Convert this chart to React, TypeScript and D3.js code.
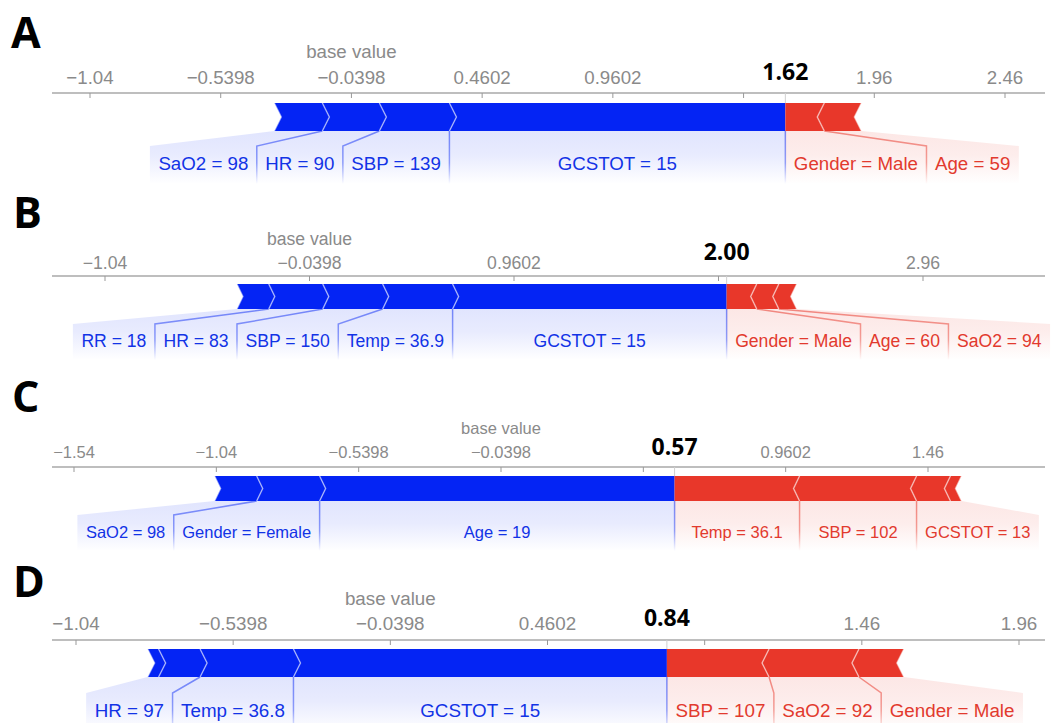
import React, { useEffect, useRef } from "react";
import * as d3 from "d3";

// Shared expected value of the model (the "base value" marker on every axis)
const BASE_VALUE = -0.0398;

// Patient A: feature labels and their SHAP contributions (ordered from the output outward)
const labelsA = ["GCSTOT = 15", "SBP = 139", "HR = 90", "SaO2 = 98", "Gender = Male", "Age = 59"];
const effectsA = [1.285, 0.268, 0.218, 0.184, -0.149, -0.142];
const outputA = 1.62;
const ticksA = [-1.0398, -0.5398, -0.0398, 0.4602, 0.9602, 1.4602, 1.9602, 2.4602];

// Patient B
const labelsB = ["GCSTOT = 15", "Temp = 36.9", "SBP = 150", "HR = 83", "RR = 18", "Gender = Male", "Age = 60", "SaO2 = 94"];
const effectsB = [1.34, 0.342, 0.293, 0.264, 0.156, -0.147, -0.108, -0.088];
const outputB = 2.0;
const ticksB = [-1.0398, -0.0398, 0.9602, 1.9602, 2.9602];

// Patient C (last red contribution is too small to carry a label)
const labelsC = ["Age = 19", "Gender = Female", "SaO2 = 98", "Temp = 36.1", "SBP = 102", "GCSTOT = 13", null];
const effectsC = [1.247, 0.221, 0.148, -0.439, -0.411, -0.119, -0.039];
const outputC = 0.57;
const ticksC = [-1.5398, -1.0398, -0.5398, -0.0398, 0.4602, 0.9602, 1.4602];

// Patient D (last blue contribution is too small to carry a label)
const labelsD = ["GCSTOT = 15", "Temp = 36.8", "HR = 97", null, "SBP = 107", "SaO2 = 92", "Gender = Male"];
const effectsD = [1.188, 0.297, 0.132, 0.035, -0.325, -0.286, -0.143];
const outputD = 0.84;
const ticksD = [-1.0398, -0.5398, -0.0398, 0.4602, 0.9602, 1.4602, 1.9602];

// Vertical placement and sizing of each force plot
const layoutA = { letterX: 11, letterY: 48, baseY: 58, tickY: 84, outY: 80, axisY: 93, px0: 90, px1: 1005, barTop: 103, barBottom: 131, labelTop: 146, labelY: 170, fadeY: 184, font: 18.7, tip: 7 };
const layoutB = { letterX: 13, letterY: 228, baseY: 245, tickY: 269, outY: 260, axisY: 276, px0: 105, px1: 923, barTop: 284, barBottom: 309, labelTop: 324, labelY: 347, fadeY: 360, font: 17.6, tip: 6 };
const layoutC = { letterX: 12, letterY: 412, baseY: 434, tickY: 458, outY: 455, axisY: 467, px0: 74, px1: 928, barTop: 476, barBottom: 501, labelTop: 515, labelY: 538, fadeY: 551, font: 16.5, tip: 6 };
const layoutD = { letterX: 13, letterY: 597, baseY: 605, tickY: 630, outY: 626, axisY: 640, px0: 76, px1: 1019, barTop: 649, barBottom: 677, labelTop: 693, labelY: 717, fadeY: 732, font: 18.8, tip: 7 };

const panels = [
  { letter: "A", labels: labelsA, effects: effectsA, output: outputA, ticks: ticksA, layout: layoutA },
  { letter: "B", labels: labelsB, effects: effectsB, output: outputB, ticks: ticksB, layout: layoutB },
  { letter: "C", labels: labelsC, effects: effectsC, output: outputC, ticks: ticksC, layout: layoutC },
  { letter: "D", labels: labelsD, effects: effectsD, output: outputD, ticks: ticksD, layout: layoutD },
];

const AXIS_LEFT = 52;
const AXIS_RIGHT = 1045;
const BLUE = "#0424f4";
const RED = "#e8372a";
const BLUE_TEXT = "#1233e6";
const RED_TEXT = "#e23a2e";
const LABEL_FONT = "'Liberation Sans', Arial, Helvetica, sans-serif";
const BOLD_FONT = "'Open Sans', 'Liberation Sans', sans-serif";
const PAD = 8.5;

type Seg = { label: string | null; v: number; a: number; b: number };

function drawPanel(svg: any, defs: any, p: any, pi: number) {
  const L = p.layout;
  const x = d3.scaleLinear().domain([p.ticks[0], p.ticks[p.ticks.length - 1]]).range([L.px0, L.px1]);
  const g = svg.append("g");
  const xOut = x(p.output);
  const mid = (L.barTop + L.barBottom) / 2;

  // gradients that fade the label area and connector lines downward
  const mkGrad = (id: string, color: string, stops: [number, number][]) => {
    const gr = defs.append("linearGradient").attr("id", id)
      .attr("gradientUnits", "userSpaceOnUse")
      .attr("x1", 0).attr("x2", 0).attr("y1", L.barBottom).attr("y2", L.fadeY);
    stops.forEach(([o, op]) => gr.append("stop").attr("offset", o).attr("stop-color", color).attr("stop-opacity", op));
  };
  mkGrad(`shadeB${pi}`, BLUE, [[0, 0.12], [0.45, 0.09], [1, 0]]);
  mkGrad(`shadeR${pi}`, RED, [[0, 0.12], [0.45, 0.09], [1, 0]]);
  mkGrad(`lineB${pi}`, BLUE, [[0, 0.5], [0.6, 0.42], [1, 0]]);
  mkGrad(`lineR${pi}`, RED, [[0, 0.55], [0.6, 0.45], [1, 0]]);

  // panel letter
  g.append("text").attr("x", L.letterX).attr("y", L.letterY)
    .attr("font-family", BOLD_FONT).attr("font-weight", 700).attr("font-size", 43)
    .attr("fill", "#000").text(p.letter);

  // axis
  g.append("line").attr("x1", AXIS_LEFT).attr("x2", AXIS_RIGHT)
    .attr("y1", L.axisY).attr("y2", L.axisY).attr("stroke", "#a9a9a9").attr("stroke-width", 1.5);
  const fmt = d3.format(",.4");
  p.ticks.forEach((t: number) => {
    g.append("line").attr("x1", x(t)).attr("x2", x(t)).attr("y1", L.axisY).attr("y2", L.axisY + 5)
      .attr("stroke", "#999").attr("stroke-width", 1);
    if (Math.abs(x(t) - xOut) > 45) {
      g.append("text").attr("x", x(t)).attr("y", L.tickY).attr("text-anchor", "middle")
        .attr("font-family", LABEL_FONT).attr("font-size", L.font).attr("fill", "#8a8a8a").text(fmt(t));
    }
  });
  g.append("text").attr("x", x(BASE_VALUE)).attr("y", L.baseY).attr("text-anchor", "middle")
    .attr("font-family", LABEL_FONT).attr("font-size", L.font).attr("fill", "#8a8a8a").text("base value");

  // output value marker
  g.append("line").attr("x1", xOut).attr("x2", xOut).attr("y1", L.axisY).attr("y2", L.barTop)
    .attr("stroke", "#d0d0d0").attr("stroke-width", 1);
  g.append("text").attr("x", xOut).attr("y", L.outY).attr("text-anchor", "middle")
    .attr("font-family", BOLD_FONT).attr("font-weight", 700).attr("font-size", 23)
    .attr("fill", "#000").text(d3.format(".2f")(p.output));

  // stack contributions outward from the output value
  const pos: Seg[] = [];
  const neg: Seg[] = [];
  let cur = p.output;
  p.effects.forEach((v: number, i: number) => {
    if (v > 0) { pos.push({ label: p.labels[i], v, a: cur - v, b: cur }); cur -= v; }
  });
  cur = p.output;
  p.effects.forEach((v: number, i: number) => {
    if (v < 0) { neg.push({ label: p.labels[i], v, a: cur, b: cur - v }); cur -= v; }
  });

  const measure = (s: string) => {
    const t = g.append("text").attr("font-family", LABEL_FONT).attr("font-size", L.font).text(s);
    const w = (t.node() as SVGTextElement).getComputedTextLength();
    t.remove();
    return w;
  };

  // label layout, blue side (leftward)
  let sep = xOut;
  const blueLabels: any[] = [];
  pos.forEach((s) => {
    if (!s.label) return;
    const w = measure(s.label);
    const c = (x(s.a) + x(s.b)) / 2;
    const right = Math.min(c + w / 2, sep - PAD);
    const left = right - w;
    const outer = Math.min(x(s.a), left - PAD);
    blueLabels.push({ label: s.label, tx: left, edge: x(s.a), sep: outer });
    sep = outer;
  });
  const blueEnd = x(pos[pos.length - 1].a);
  const blueLast = blueLabels[blueLabels.length - 1].sep;

  // label layout, red side (rightward)
  sep = xOut;
  const redLabels: any[] = [];
  neg.forEach((s) => {
    if (!s.label) return;
    const w = measure(s.label);
    const c = (x(s.a) + x(s.b)) / 2;
    const left = Math.max(c - w / 2, sep + PAD);
    const right = left + w;
    const outer = Math.max(x(s.b), right + PAD);
    redLabels.push({ label: s.label, tx: left, edge: x(s.b), sep: outer });
    sep = outer;
  });
  const redEnd = x(neg[neg.length - 1].b);
  const redLast = redLabels[redLabels.length - 1].sep;

  // shaded label areas
  g.append("path")
    .attr("d", `M${xOut},${L.barBottom} L${blueEnd},${L.barBottom} L${blueLast},${L.labelTop} L${blueLast},${L.fadeY} L${xOut},${L.fadeY} Z`)
    .attr("fill", `url(#shadeB${pi})`);
  g.append("path")
    .attr("d", `M${xOut},${L.barBottom} L${redEnd},${L.barBottom} L${redLast},${L.labelTop} L${redLast},${L.fadeY} L${xOut},${L.fadeY} Z`)
    .attr("fill", `url(#shadeR${pi})`);

  // connectors
  blueLabels.slice(0, -1).forEach((d) => {
    g.append("path").attr("d", `M${d.edge},${L.barBottom} L${d.sep},${L.labelTop} L${d.sep},${L.fadeY}`)
      .attr("fill", "none").attr("stroke", `url(#lineB${pi})`).attr("stroke-width", 1.5);
  });
  redLabels.slice(0, -1).forEach((d) => {
    g.append("path").attr("d", `M${d.edge},${L.barBottom} L${d.sep},${L.labelTop} L${d.sep},${L.fadeY}`)
      .attr("fill", "none").attr("stroke", `url(#lineR${pi})`).attr("stroke-width", 1.5);
  });
  g.append("path").attr("d", `M${xOut},${L.barBottom} L${xOut + 0.01},${L.fadeY}`)
    .attr("fill", "none").attr("stroke", `url(#lineB${pi})`).attr("stroke-width", 1.5);

  // force bars
  const tip = L.tip;
  pos.forEach((s, i) => {
    const l = x(s.a), r = x(s.b);
    const pts = [[l, L.barTop], [r, L.barTop], [i === 0 ? r : r + tip, mid], [r, L.barBottom], [l, L.barBottom], [l + tip, mid]];
    g.append("polygon").attr("points", pts.map((q) => q.join(",")).join(" ")).attr("fill", BLUE);
  });
  neg.forEach((s, i) => {
    const l = x(s.a), r = x(s.b);
    const pts = [[l, L.barTop], [r, L.barTop], [r - tip, mid], [r, L.barBottom], [l, L.barBottom], [i === 0 ? l : l - tip, mid]];
    g.append("polygon").attr("points", pts.map((q) => q.join(",")).join(" ")).attr("fill", RED);
  });
  pos.forEach((s) => {
    const l = x(s.a);
    g.append("path").attr("d", `M${l},${L.barTop} L${l + tip},${mid} L${l},${L.barBottom}`)
      .attr("fill", "none").attr("stroke", "#fff").attr("stroke-opacity", 0.55).attr("stroke-width", 1.5);
  });
  neg.forEach((s) => {
    const r = x(s.b);
    g.append("path").attr("d", `M${r},${L.barTop} L${r - tip},${mid} L${r},${L.barBottom}`)
      .attr("fill", "none").attr("stroke", "#fff").attr("stroke-opacity", 0.55).attr("stroke-width", 1.5);
  });

  // feature labels
  blueLabels.forEach((d) => {
    g.append("text").attr("x", d.tx).attr("y", L.labelY).attr("font-family", LABEL_FONT)
      .attr("font-size", L.font).attr("fill", BLUE_TEXT).text(d.label);
  });
  redLabels.forEach((d) => {
    g.append("text").attr("x", d.tx).attr("y", L.labelY).attr("font-family", LABEL_FONT)
      .attr("font-size", L.font).attr("fill", RED_TEXT).text(d.label);
  });
}

export default function App() {
  const ref = useRef<SVGSVGElement>(null);
  useEffect(() => {
    const svg = d3.select(ref.current);
    svg.selectAll("*").remove();
    const defs = svg.append("defs");
    panels.forEach((p, pi) => drawPanel(svg, defs, p, pi));
  }, []);
  return (
    <svg
      ref={ref}
      width={1060}
      height={723}
      style={{ position: "absolute", left: 0, top: 0, background: "#fff" }}
    />
  );
}
